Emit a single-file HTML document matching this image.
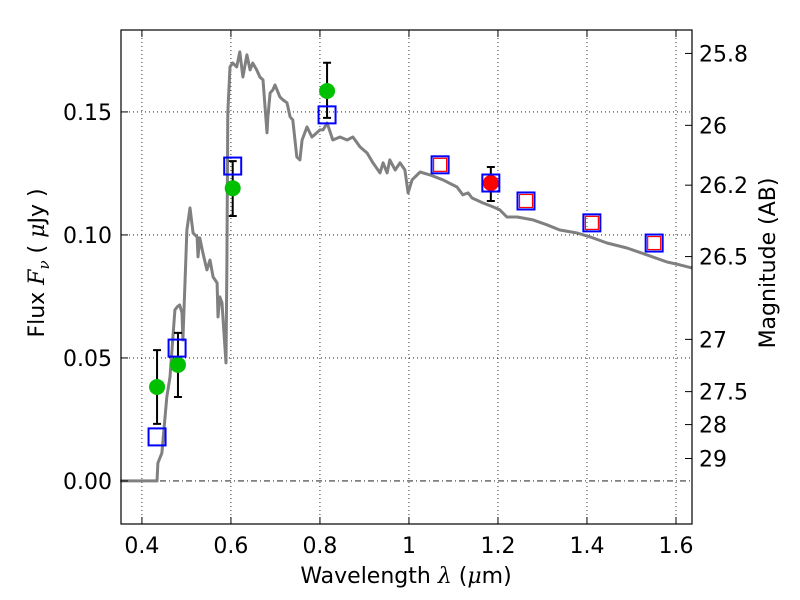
<!DOCTYPE html>
<html><head><meta charset="utf-8"><style>
body{margin:0;background:#fff}
svg text{font-family:"DejaVu Sans","Liberation Sans",sans-serif;fill:#000}
</style></head><body>
<svg id="chart" width="800" height="600" viewBox="0 0 800 600" xmlns="http://www.w3.org/2000/svg" style="position:absolute;left:0;top:0">
<rect width="800" height="600" fill="#fff"/>
<g id="grid"></g><g id="marks"></g><g id="axes"></g>
<text x="406" y="583" text-anchor="middle" font-size="22">Wavelength  <tspan font-style="italic" font-family="DejaVu Serif,serif">λ</tspan> (<tspan font-style="italic" font-family="DejaVu Serif,serif">μ</tspan>m)</text>
<text transform="translate(44,263) rotate(-90)" text-anchor="middle" font-size="22">Flux  <tspan font-style="italic" font-family="DejaVu Serif,serif">F</tspan><tspan font-style="italic" font-size="15" dy="5" font-family="DejaVu Serif,serif">ν</tspan><tspan dy="-5">  (  </tspan><tspan font-style="italic" font-family="DejaVu Serif,serif">μ</tspan>Jy )</text>
<text transform="translate(775,263) rotate(-90)" text-anchor="middle" font-size="22">Magnitude (AB)</text>
</svg>
<script>
const specLam=[0.351,0.434,0.436,0.445,0.456,0.463,0.474,0.479,0.485,0.490,0.492,0.501,0.508,0.515,0.524,0.526,0.530,0.537,0.546,0.553,0.560,0.569,0.571,0.575,0.580,0.582,0.589,0.591,0.593,0.598,0.604,0.613,0.620,0.627,0.636,0.643,0.649,0.658,0.665,0.672,0.681,0.683,0.688,0.694,0.699,0.710,0.717,0.726,0.733,0.739,0.748,0.755,0.760,0.771,0.782,0.793,0.800,0.807,0.816,0.829,0.845,0.861,0.874,0.890,0.906,0.919,0.935,0.942,0.951,0.957,0.969,0.980,0.991,0.998,1.007,1.025,1.047,1.076,1.108,1.121,1.133,1.142,1.166,1.189,1.204,1.220,1.243,1.279,1.310,1.339,1.378,1.407,1.445,1.490,1.535,1.580,1.609,1.636];
const specFlux=[0,0,0.0073,0.0114,0.0341,0.0423,0.0695,0.0707,0.0715,0.0683,0.0573,0.102,0.111,0.1008,0.0992,0.0911,0.0988,0.0927,0.0858,0.0898,0.0829,0.0805,0.0667,0.0748,0.0724,0.0667,0.048,0.0886,0.1496,0.1683,0.1699,0.1683,0.1744,0.1642,0.1732,0.1671,0.1699,0.1671,0.1642,0.163,0.1415,0.148,0.1577,0.1589,0.161,0.1561,0.1549,0.1537,0.1480,0.1467,0.1317,0.1305,0.1386,0.1439,0.1398,0.1415,0.1427,0.1427,0.1455,0.1386,0.1398,0.1386,0.1398,0.1358,0.1333,0.1293,0.1252,0.1293,0.1252,0.1305,0.1264,0.1293,0.1264,0.1171,0.1224,0.1256,0.1244,0.1224,0.1195,0.1163,0.1171,0.115,0.113,0.1114,0.1102,0.1073,0.1073,0.1061,0.1041,0.102,0.1008,0.0992,0.0967,0.0947,0.0919,0.089,0.0878,0.0866];
const photLam=[0.434,0.481,0.604,0.816];
const photFlux=[0.0382,0.0472,0.119,0.1585];
const photLo=[0.0232,0.0341,0.1077,0.1476];
const photHi=[0.0532,0.0602,0.130,0.170];
const blueLam=[0.434,0.479,0.604,0.816,1.070,1.184,1.263,1.411,1.551];
const blueFlux=[0.0179,0.054,0.128,0.1488,0.1285,0.1211,0.1138,0.1049,0.0967];
const redLam=[1.070,1.263,1.411,1.551];
const redFlux=[0.1285,0.1138,0.1049,0.0967];
const nirLam=[1.184];
const nirFlux=[0.1211];
const nirLo=[0.1138];
const nirHi=[0.1276];
const xTicks=[0.4,0.6,0.8,1.0,1.2,1.4,1.6];
const xTickLabels=["0.4","0.6","0.8","1","1.2","1.4","1.6"];
const yTicks=[0,0.05,0.10,0.15];
const yTickLabels=["0.00","0.05","0.10","0.15"];
const magTicks=[25.8,26,26.2,26.5,27,27.5,28,29];
const magLabels=["25.8","26","26.2","26.5","27","27.5","28","29"];

const L=121,R=692,T=30,B=524,X0=0.353,X1=1.636,Y0=-0.0175,Y1=0.1833;
const sx=v=>L+(v-X0)/(X1-X0)*(R-L);
const sy=v=>B-(v-Y0)/(Y1-Y0)*(B-T);
const NS="http://www.w3.org/2000/svg";
function mk(tag,attrs,parent,text){const e=document.createElementNS(NS,tag);for(const k in attrs)e.setAttribute(k,attrs[k]);if(text!==undefined)e.textContent=text;document.getElementById(parent).appendChild(e);return e;}
xTicks.forEach((t,i)=>{
 const g=mk('line',{x1:sx(t),x2:sx(t),y1:T,y2:B,stroke:'#000','stroke-width':0.8,'stroke-dasharray':'1,3'},'grid');
 
 
});
yTicks.forEach((t,i)=>{
 const g=mk('line',{x1:L,x2:R,y1:sy(t),y2:sy(t),stroke:'#000','stroke-width':0.8,'stroke-dasharray':t===0?'6,3,1,3':'1,3'},'grid');
 
 
});
const sp=mk('path',{d:specLam.map((l,i)=>(i?'L':'M')+sx(l).toFixed(1)+','+sy(specFlux[i]).toFixed(1)).join(''),fill:'none',stroke:'#808080','stroke-width':3,'stroke-linejoin':'round'},'marks');


function err(l,lo,hi){
 const x=sx(l);
 const e=mk('path',{d:`M${x},${sy(lo)}V${sy(hi)}M${x-4},${sy(lo)}h8M${x-4},${sy(hi)}h8`,stroke:'#000','stroke-width':2,fill:'none'},'marks');
 
 
}
photLam.forEach((l,i)=>err(l,photLo[i],photHi[i]));
nirLam.forEach((l,i)=>err(l,nirLo[i],nirHi[i]));
photLam.forEach((l,i)=>{
 const c=mk('circle',{cx:sx(l),cy:sy(photFlux[i]),r:8,fill:'#00c000'},'marks');
 
 
});
nirLam.forEach((l,i)=>{
 const c=mk('circle',{cx:sx(l),cy:sy(nirFlux[i]),r:8,fill:'#ff0000'},'marks');
 
 
});
redLam.forEach((l,i)=>{
 const r=mk('rect',{x:sx(l)-6.5,y:sy(redFlux[i])-6.5,width:13,height:13,fill:'none',stroke:'#ff0000','stroke-width':1.2},'marks');
 
 
});
blueLam.forEach((l,i)=>{
 const r=mk('rect',{x:sx(l)-8.5,y:sy(blueFlux[i])-8.5,width:17,height:17,fill:'none',stroke:'#0000ff','stroke-width':2},'marks');
 
 
});
const fr=mk('rect',{x:L,y:T,width:R-L,height:B-T,fill:'none',stroke:'#000','stroke-width':1.2},'axes');


xTicks.forEach((t,i)=>{
 mk('path',{d:`M${sx(t)},${B}v-7M${sx(t)},${T}v7`,stroke:'#000','stroke-width':1},'axes');
 const tx=mk('text',{x:sx(t),y:B+29,'text-anchor':'middle','font-size':22},'axes',xTickLabels[i]);
 
 
});
yTicks.forEach((t,i)=>{
 mk('path',{d:`M${L},${sy(t)}h7`,stroke:'#000','stroke-width':1},'axes');
 const tx=mk('text',{x:L-9,y:sy(t)+8,'text-anchor':'end','font-size':22},'axes',yTickLabels[i]);
 
 
});
magTicks.forEach((m,i)=>{
 const f=Math.pow(10,(23.9-m)/2.5);
 mk('path',{d:`M${R},${sy(f)}h-7`,stroke:'#000','stroke-width':1},'axes');
 const tx=mk('text',{x:R+7,y:sy(f)+8,'font-size':22},'axes',magLabels[i]);
 
 
});
</script>
</body></html>
